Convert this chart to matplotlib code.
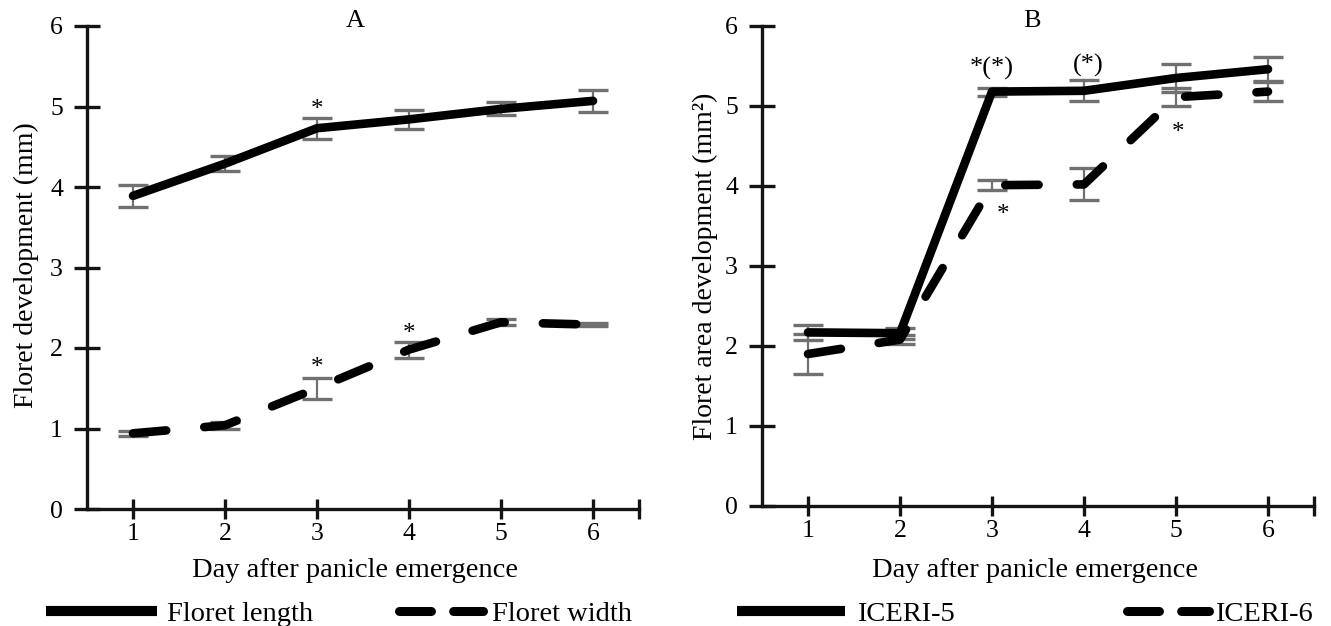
import matplotlib
matplotlib.use('Agg')
import matplotlib.pyplot as plt
from matplotlib.lines import Line2D

plt.rcParams['font.family'] = ['Liberation Serif', 'DejaVu Serif']

# ---------------- data ----------------
days = [1, 2, 3, 4, 5, 6]
day_labels = ['1', '2', '3', '4', '5', '6']

floret_length = [3.89, 4.29, 4.73, 4.84, 4.97, 5.07]
floret_length_err = [0.14, 0.09, 0.13, 0.12, 0.08, 0.14]
floret_width = [0.94, 1.04, 1.50, 1.98, 2.32, 2.29]
floret_width_err = [0.03, 0.04, 0.13, 0.10, 0.04, 0.02]

iceri5 = [2.17, 2.16, 5.18, 5.19, 5.35, 5.46]
iceri5_err = [0.09, 0.07, 0.05, 0.13, 0.18, 0.15]
iceri6 = [1.90, 2.08, 4.01, 4.02, 5.11, 5.18]
iceri6_err = [0.25, 0.06, 0.06, 0.20, 0.11, 0.12]

y_ticks = [0, 1, 2, 3, 4, 5, 6]

# annotations: (x, y, text)
stars_a = [(3, 5.04, '*'), (3, 1.83, '*'), (4, 2.26, '*')]
stars_b = [(3.12, 3.72, '*'), (5.02, 4.74, '*')]
paren_b = [(3.0, 5.47, '*(*)'), (4.05, 5.51, '(*)')]

# ---------------- figure ----------------
W, H, DPI = 1331, 626, 100
fig = plt.figure(figsize=(W / DPI, H / DPI), dpi=DPI)

LW = 6.2
ON, OFF = 24.0, 27.5
dash = (0, (ON / LW, OFF / LW))
ECOL = '#707070'
SPC = '#141414'

axA = fig.add_axes([87 / W, 1 - 509 / H, 552 / W, 483 / H])
axB = fig.add_axes([762 / W, 1 - 506 / H, 552 / W, 480 / H])


def style(ax):
    ax.set_xlim(0.5, 6.5)
    ax.set_ylim(0, 6)
    for s in ['top', 'right']:
        ax.spines[s].set_visible(False)
    for s in ['left', 'bottom']:
        ax.spines[s].set_linewidth(2.4)
        ax.spines[s].set_color(SPC)
    ax.set_xticks(days)
    ax.set_xticklabels(day_labels)
    ax.set_xticks([6.5], minor=True)
    ax.set_yticks(y_ticks)
    ax.tick_params(axis='y', direction='inout', length=18.7, width=2.4,
                   pad=8, labelsize=18.5, color=SPC)
    ax.tick_params(axis='x', which='both', direction='inout', length=14.4,
                   width=2.4, pad=3, labelsize=18.5, color=SPC)


def draw(ax, v1, e1, v2, e2):
    ax.errorbar(days, v2, yerr=e2, fmt='none', ecolor=ECOL, elinewidth=1.6,
                capsize=11, capthick=2.4, zorder=2)
    ax.errorbar(days, v1, yerr=e1, fmt='none', ecolor=ECOL, elinewidth=1.6,
                capsize=11, capthick=2.4, zorder=2)
    ax.plot(days, v2, color='k', lw=LW, ls=dash, dash_capstyle='round',
            solid_joinstyle='round', zorder=3)
    ax.plot(days, v1, color='k', lw=LW, solid_capstyle='round',
            solid_joinstyle='round', zorder=4)


def star(ax, x, y, t):
    ax.annotate(t, xy=(x, y), xytext=(0, -9), textcoords='offset points',
                ha='center', va='baseline', fontsize=18, zorder=5)


style(axA)
style(axB)
draw(axA, floret_length, floret_length_err, floret_width, floret_width_err)
draw(axB, iceri5, iceri5_err, iceri6, iceri6_err)

for x, y, t in stars_a:
    star(axA, x, y, t)
for x, y, t in stars_b:
    star(axB, x, y, t)
for x, y, t in paren_b:
    axB.text(x, y, t, ha='center', va='center', fontsize=19, zorder=5)

axA.set_title('A', x=0.4855, y=0.9938, va='center', fontsize=19)
axB.set_title('B', x=0.489, y=0.994, va='center', fontsize=19)

axA.set_ylabel('Floret development (mm)', fontsize=20)
axB.set_ylabel('Floret area development (mm²)', fontsize=20)
axA.yaxis.set_label_coords(-0.1105, 0.505)
axB.yaxis.set_label_coords(-0.103, 0.5)
axA.yaxis.label.set_va('center')
axB.yaxis.label.set_va('center')

axA.set_xlabel('Day after panicle emergence', fontsize=20.5)
axB.set_xlabel('Day after panicle emergence', fontsize=20.5)
axA.xaxis.label.set_va('center')
axB.xaxis.label.set_va('center')
axA.xaxis.set_label_coords(0.4855, -0.128)
axB.xaxis.set_label_coords(0.4946, -0.135)

# ---------------- legends ----------------
LFS = 20.5
LPX = LFS * DPI / 72.0
LLW = 6.5
LLW_PX = LLW * DPI / 72.0


def add_legend(label, x0, x1, text_x, dashed):
    if dashed:
        h = Line2D([], [], color='k', lw=LLW,
                   ls=(0, (23.0 / LLW, 16.0 / LLW)), dash_capstyle='round')
        start = x0 + LLW_PX / 2
        length = (x1 - x0 - LLW_PX) / LPX
        pad = (text_x - (x1 - LLW_PX / 2)) / LPX
    else:
        h = Line2D([], [], color='k', lw=LLW + 0.8, solid_capstyle='butt')
        start = x0
        length = (x1 - x0) / LPX
        pad = (text_x - x1) / LPX
    fig.legend(handles=[h], labels=[label], loc='center left',
               bbox_to_anchor=(start / W, 1 - 614 / H), frameon=False,
               fontsize=LFS, handlelength=length, handletextpad=pad,
               borderpad=0, borderaxespad=0)


add_legend('Floret length', 46, 157, 167, False)
add_legend('Floret width', 394, 488, 492, True)
add_legend('ICERI-5', 737, 845, 857, False)
add_legend('ICERI-6', 1122, 1214, 1215, True)

fig.savefig('out.png', dpi=DPI)
